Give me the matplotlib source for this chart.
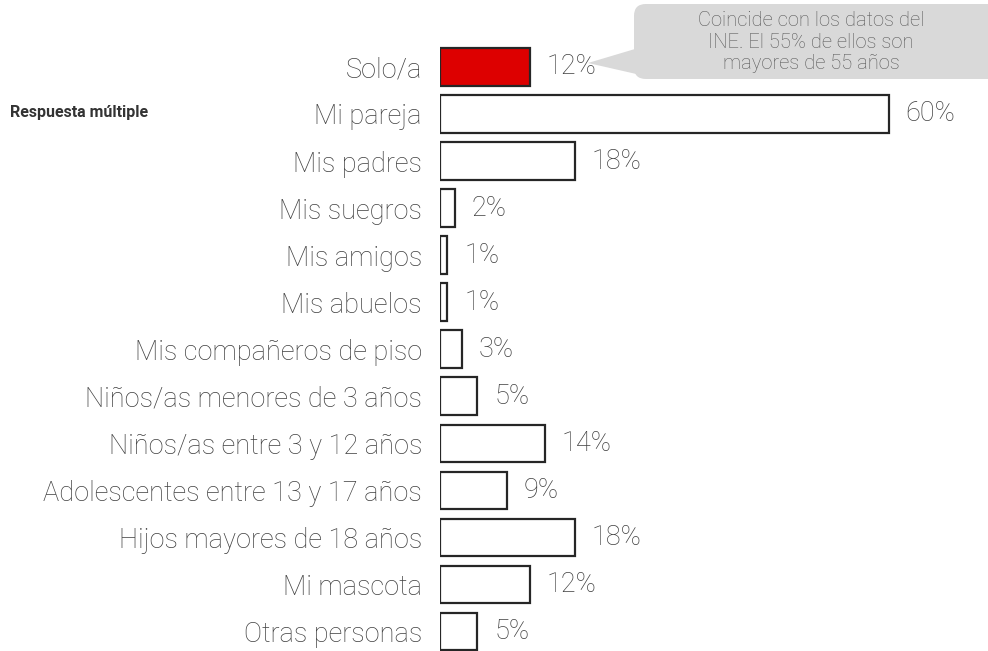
import matplotlib
matplotlib.use("Agg")
import matplotlib.pyplot as plt
from matplotlib.patches import FancyBboxPatch, Polygon

categories = ["Solo/a", "Mi pareja", "Mis padres", "Mis suegros", "Mis amigos",
              "Mis abuelos", "Mis compañeros de piso", "Niños/as menores de 3 años",
              "Niños/as entre 3 y 12 años", "Adolescentes entre 13 y 17 años",
              "Hijos mayores de 18 años", "Mi mascota", "Otras personas"]
values = [12, 60, 18, 2, 1, 1, 3, 5, 14, 9, 18, 12, 5]
value_labels = ["12%", "60%", "18%", "2%", "1%", "1%", "3%", "5%", "14%", "9%", "18%", "12%", "5%"]
side_note = "Respuesta múltiple"
callout_text = "Coincide con los datos del\nINE. El 55% de ellos son\nmayores de 55 años"

plt.rcParams['font.family'] = ['Roboto', 'DejaVu Sans']
W, H = 988, 651
fig = plt.figure(figsize=(W/100, H/100), dpi=100)
ax = fig.add_axes([440/W, 0, 1 - 440/W, 1])

txt = "#404040"
colors = ["#dd0000"] + ["white"] * (len(values) - 1)
y = list(range(len(values)))
ax.barh(y, values, height=0.8, color=colors, edgecolor="#262626", linewidth=1.6)
ax.set_xlim(0, (W - 440) / 7.48)
ax.set_ylim(12 + 19.5/47.1, -67/47.1)
ax.set_yticks(y)
ax.set_yticklabels(categories, fontsize=19.5, color=txt, fontweight="light")
ax.tick_params(axis="y", length=0, pad=13)
ax.set_xticks([])
for s in ax.spines.values():
    s.set_visible(False)

for yi, v, lab in zip(y, values, value_labels):
    ax.annotate(lab, (v, yi), xytext=(12, 0), textcoords="offset points",
                va="center", ha="left", fontsize=19.5, color=txt, fontweight="light")

fig.text(10/W, 1 - 112/H, side_note, fontsize=11.5, fontweight="bold", color="#333333",
         va="center", ha="left")

# callout
def fx(px): return px / W
def fy(py): return 1 - py / H
box = FancyBboxPatch((fx(634), fy(79)), fx(1000) - fx(634), fy(4) - fy(79),
                     boxstyle="round,pad=0,rounding_size=0.012",
                     transform=fig.transFigure, facecolor="#d9d9d9", edgecolor="none",
                     mutation_aspect=W/H)
fig.patches.append(box)
tri = Polygon([(fx(588), fy(63)), (fx(645), fy(46)), (fx(645), fy(76))],
              closed=True, transform=fig.transFigure, facecolor="#d9d9d9", edgecolor="none")
fig.patches.append(tri)
fig.text(fx(811), fy(42), callout_text, ha="center", va="center", fontsize=14.5,
         color="#595959", fontweight="light", linespacing=1.15)

fig.savefig("out.png", dpi=100)
